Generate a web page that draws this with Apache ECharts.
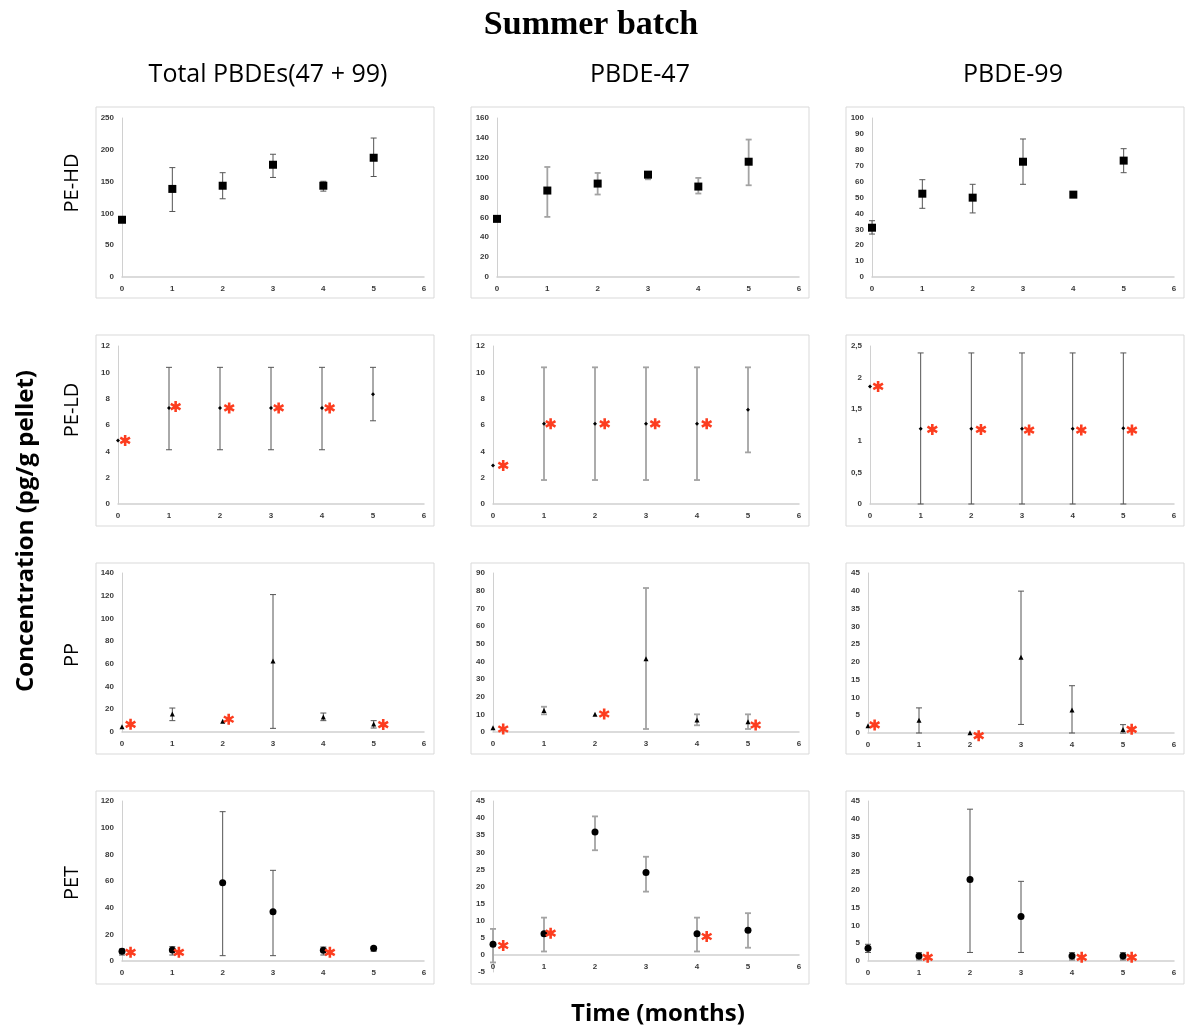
<!DOCTYPE html>
<html><head><meta charset="utf-8">
<script src="https://cdn.jsdelivr.net/npm/echarts@6/dist/echarts.min.js"></script>
<style>html,body{margin:0;padding:0;background:#fff}#c{width:1185px;height:1028px}</style>
</head><body><div id="c"></div>
<script>
// ---------- DATA ----------
const months = [0, 1, 2, 3, 4, 5];
const columnTitles = ['Total PBDEs(47 + 99)', 'PBDE-47', 'PBDE-99'];
const rowTitles = ['PE-HD', 'PE-LD', 'PP', 'PET'];

// PE-HD
const hdTotMean = [90, 138.5, 143.5, 176.5, 143.5, 187.5];
const hdTotLow  = [null, 103, 123, 156.5, 135, 158];
const hdTotHigh = [null, 172, 164, 193, 150.5, 218.5];
const hd47Mean = [58.5, 87, 94, 103, 91, 116];
const hd47Low  = [null, 60.5, 83, 98.3, 84, 92.3];
const hd47High = [null, 110.7, 104.7, 105.7, 99.7, 138.3];
const hd99Mean = [31, 52.4, 49.9, 72.5, 51.8, 73.2];
const hd99Low  = [27, 43.2, 40.3, 58.3, null, 65.6];
const hd99High = [35.4, 61.2, 58.3, 86.8, null, 80.7];

// PE-LD
const ldTotMean = [4.83, 7.3, 7.3, 7.3, 7.3, 8.34];
const ldTotLow  = [null, 4.12, 4.12, 4.12, 4.12, 6.32];
const ldTotHigh = [null, 10.38, 10.38, 10.38, 10.38, 10.38];
const ld47Mean = [2.93, 6.09, 6.09, 6.09, 6.09, 7.15];
const ld47Low  = [null, 1.82, 1.82, 1.82, 1.82, 3.92];
const ld47High = [null, 10.38, 10.38, 10.38, 10.38, 10.38];
const ld99Mean = [1.86, 1.19, 1.19, 1.19, 1.19, 1.2];
const ld99Low  = [null, 0, 0, 0, 0, 0];
const ld99High = [null, 2.39, 2.39, 2.39, 2.39, 2.39];

// PP
const ppTotMean = [4.7, 15.8, 9.4, 62.5, 13.2, 7];
const ppTotLow  = [null, 10, null, 3.2, 10, 3.5];
const ppTotHigh = [null, 21.1, null, 121, 16.7, 10];
const pp47Mean = [2.4, 12.2, 10, 41.4, 6.8, 5.8];
const pp47Low  = [null, 10, null, 1.7, 3.8, 1.7];
const pp47High = [null, 14.3, null, 81.5, 10, 10];
const pp99Mean = [2.07, 3.6, 0.1, 21.3, 6.5, 1.0];
const pp99Low  = [null, 0, null, 2.4, 0, 0];
const pp99High = [null, 7.06, null, 39.9, 13.3, 2.35];

// PET
const petTotMean = [7.3, 8.3, 58.7, 36.9, 8, 9.5];
const petTotLow  = [4.5, 4.5, 4, 4, 4.5, 7.3];
const petTotHigh = [9, 10.8, 112, 68, 10.5, 10.5];
const pet47Mean = [3.1, 6.2, 35.9, 24.1, 6.2, 7.2];
const pet47Low  = [-2.2, 1, 30.6, 18.5, 1, 2.1];
const pet47High = [7.6, 10.9, 40.5, 28.7, 10.9, 12.2];
const pet99Mean = [3.6, 1.4, 22.9, 12.5, 1.4, 1.4];
const pet99Low  = [2.4, 0.3, 2.4, 2.4, 0.3, 0.3];
const pet99High = [4.7, 2.35, 42.7, 22.4, 2.35, 2.35];

// significance asterisks (x position, y position as read)
const ldTotStarX = [0.14, 1.13, 2.18, 3.15, 4.15], ldTotStarY = [4.83, 7.4, 7.3, 7.3, 7.3];
const ld47StarX = [0.2, 1.13, 2.19, 3.18, 4.19], ld47StarY = [2.93, 6.09, 6.09, 6.09, 6.09];
const ld99StarX = [0.16, 1.23, 2.19, 3.14, 4.17, 5.17], ld99StarY = [1.86, 1.18, 1.18, 1.17, 1.17, 1.17];
const ppTotStarX = [0.17, 2.12, 5.19], ppTotStarY = [6.75, 11.2, 6.5];
const pp47StarX = [0.2, 2.18, 5.15], pp47StarY = [1.7, 10.2, 3.95];
const pp99StarX = [0.13, 2.17, 5.17], pp99StarY = [2.26, -0.75, 1.04];
const petTotStarX = [0.17, 1.13, 4.13], petTotStarY = [6.5, 6.5, 6.5];
const pet47StarX = [0.2, 1.13, 4.19], pet47StarY = [2.74, 6.36, 5.38];
const pet99StarX = [1.17, 4.19, 5.17], pet99StarY = [1.04, 1.04, 1.04];

// y axis scales [min, max, interval]
const yScales = [
  [[0, 250, 50], [0, 160, 20], [0, 100, 10]],
  [[0, 12, 2], [0, 12, 2], [0, 2.5, 0.5]],
  [[0, 140, 20], [0, 90, 10], [0, 45, 5]],
  [[0, 120, 20], [-5, 45, 5], [0, 45, 5]]
];

const panelData = [
  [[hdTotMean, hdTotLow, hdTotHigh, [], []], [hd47Mean, hd47Low, hd47High, [], []], [hd99Mean, hd99Low, hd99High, [], []]],
  [[ldTotMean, ldTotLow, ldTotHigh, ldTotStarX, ldTotStarY], [ld47Mean, ld47Low, ld47High, ld47StarX, ld47StarY], [ld99Mean, ld99Low, ld99High, ld99StarX, ld99StarY]],
  [[ppTotMean, ppTotLow, ppTotHigh, ppTotStarX, ppTotStarY], [pp47Mean, pp47Low, pp47High, pp47StarX, pp47StarY], [pp99Mean, pp99Low, pp99High, pp99StarX, pp99StarY]],
  [[petTotMean, petTotLow, petTotHigh, petTotStarX, petTotStarY], [pet47Mean, pet47Low, pet47High, pet47StarX, pet47StarY], [pet99Mean, pet99Low, pet99High, pet99StarX, pet99StarY]]
];

// ---------- LAYOUT / STYLE ----------
const gridLeft = [[122, 497, 872], [118, 493, 870], [122, 493, 868], [122, 493, 868]];
const gridRight = [424, 799, 1174];
const gridTop = [118, 346, 573, 801];
const gridBottom = [[277, 277, 277], [504, 504, 504], [732, 732, 733], [961, 972, 961]];
const boxX = [96, 471, 846], boxW = 338;
const boxY = [107, 335, 563, 791], boxH = [191, 191, 191, 193];
const rowSymbols = [['rect', 8], ['diamond', 4], ['triangle', 5], ['circle', 7]];
const errColor = ['#555555', '#a3a3a3', '#555555'];
const errWidth = [1, 1.8, 1];
const tickFont = {fontSize: 8, fontWeight: 'bold', color: '#3a3a3a', fontFamily: 'Liberation Sans'};

// asterisk path: three crossing bars (same winding -> union fill)
let ast = '';
[90, 30, 150].forEach(deg => {
  const t = deg * Math.PI / 180;
  const dx = Math.cos(t), dy = Math.sin(t), nx = -dy, ny = dx;
  const L = 10, W = 2.3;
  const pts = [[L * dx + W * nx, L * dy + W * ny], [-L * dx + W * nx, -L * dy + W * ny],
               [-L * dx - W * nx, -L * dy - W * ny], [L * dx - W * nx, L * dy - W * ny]];
  pts.forEach((p, i) => { ast += (i === 0 ? 'M' : 'L') + (10 + p[0]).toFixed(2) + ' ' + (10 + p[1]).toFixed(2) + ' '; });
  ast += 'Z ';
});
ast = 'path://' + ast;

const grids = [], xAxes = [], yAxes = [], series = [], graphics = [];
let idx = 0;
for (let r = 0; r < 4; r++) {
  for (let c = 0; c < 3; c++) {
    const [mean, low, high, sx, sy] = panelData[r][c];
    const [ymin, ymax, yint] = yScales[r][c];
    const h = gridBottom[r][c] - gridTop[r];
    const zeroShift = (0 - ymin) / (ymax - ymin) * h; // distance of zero line above grid bottom
    grids.push({left: gridLeft[r][c], top: gridTop[r], width: gridRight[c] - gridLeft[r][c], height: h});
    xAxes.push({gridIndex: idx, type: 'value', min: 0, max: 6, interval: 1, position: 'bottom',
      offset: -zeroShift,
      axisLine: {show: true, onZero: false, lineStyle: {color: '#d0d0d0', width: 1.5}},
      axisTick: {show: false}, splitLine: {show: false},
      axisLabel: Object.assign({margin: 8}, tickFont)});
    yAxes.push({gridIndex: idx, type: 'value', min: ymin, max: ymax, interval: yint,
      axisLine: {show: true, onZero: false, lineStyle: {color: '#d0d0d0', width: 1}},
      axisTick: {show: false}, splitLine: {show: false},
      axisLabel: Object.assign({margin: 8, formatter: v => String(v).replace('.', ',')}, tickFont)});
    const errData = [];
    months.forEach((m, i) => { if (low[i] !== null && high[i] !== null) errData.push([m, low[i], high[i]]); });
    const col = errColor[c], lw = errWidth[c];
    series.push({type: 'custom', xAxisIndex: idx, yAxisIndex: idx, clip: false, z: 2,
      encode: {x: 0, y: [1, 2]}, data: errData, silent: true,
      renderItem: function (params, api) {
        const x = api.value(0);
        const p1 = api.coord([x, api.value(1)]), p2 = api.coord([x, api.value(2)]);
        const cap = 3;
        const st = {stroke: col, lineWidth: lw};
        return {type: 'group', children: [
          {type: 'line', shape: {x1: p1[0], y1: p1[1], x2: p2[0], y2: p2[1]}, style: st},
          {type: 'line', shape: {x1: p1[0] - cap, y1: p1[1], x2: p1[0] + cap, y2: p1[1]}, style: st},
          {type: 'line', shape: {x1: p2[0] - cap, y1: p2[1], x2: p2[0] + cap, y2: p2[1]}, style: st}
        ]};
      }});
    series.push({type: 'scatter', xAxisIndex: idx, yAxisIndex: idx, clip: false, z: 3, silent: true,
      symbol: rowSymbols[r][0], symbolSize: rowSymbols[r][1],
      itemStyle: {color: '#000', opacity: 1},
      data: months.map((m, i) => [m, mean[i]])});
    if (sx.length) {
      series.push({type: 'scatter', xAxisIndex: idx, yAxisIndex: idx, clip: false, z: 4, silent: true,
        symbol: ast, symbolSize: 11, itemStyle: {color: '#fc3d1f', opacity: 1},
        data: sx.map((x, i) => [x, sy[i]])});
    }
    graphics.push({type: 'rect', shape: {x: boxX[c], y: boxY[r], width: boxW, height: boxH[r]},
      style: {fill: 'none', stroke: '#d9d9d9', lineWidth: 1}, z: -1, silent: true});
    idx++;
  }
}

// texts
graphics.push({type: 'text', x: 591, y: 25, style: {text: 'Summer batch', font: 'bold 34px "Liberation Serif"', fill: '#000', textAlign: 'center', textVerticalAlign: 'middle'}});
const colCenters = [268, 640, 1013];
columnTitles.forEach((t, i) => graphics.push({type: 'text', x: colCenters[i], y: 75,
  style: {text: t, font: '25px "Open Sans"', fill: '#000', textAlign: 'center', textVerticalAlign: 'middle'}}));
const rowCenters = [183, 410, 655, 883];
rowTitles.forEach((t, i) => graphics.push({type: 'text', x: 72, y: rowCenters[i], rotation: Math.PI / 2,
  style: {text: t, font: '20px "Open Sans"', fill: '#000', textAlign: 'center', textVerticalAlign: 'middle'}}));
graphics.push({type: 'text', x: 26, y: 531, rotation: Math.PI / 2,
  style: {text: 'Concentration (pg/g pellet)', font: 'bold 24px "Open Sans"', fill: '#000', textAlign: 'center', textVerticalAlign: 'middle'}});
graphics.push({type: 'text', x: 658, y: 1014,
  style: {text: 'Time (months)', font: 'bold 24px "Open Sans"', fill: '#000', textAlign: 'center', textVerticalAlign: 'middle'}});

const chart = echarts.init(document.getElementById('c'), null, {renderer: 'canvas'});
chart.setOption({
  animation: false,
  backgroundColor: '#fff',
  grid: grids, xAxis: xAxes, yAxis: yAxes, series: series, graphic: graphics
});
</script></body></html>
